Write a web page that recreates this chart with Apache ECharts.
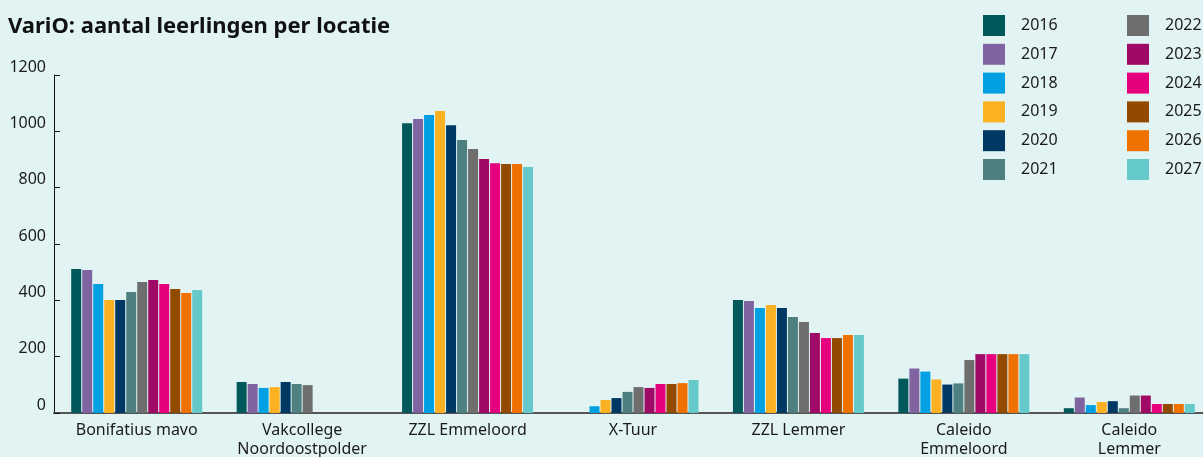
<!DOCTYPE html>
<html><head><meta charset="utf-8">
<script src="https://cdn.jsdelivr.net/npm/echarts@6/dist/echarts.min.js"></script>
<style>html,body{margin:0;padding:0;background:#e1f4f3;overflow:hidden}#c{width:1203px;height:457px}</style>
</head><body><div id="c"></div>
<script>
const categories = ['Bonifatius mavo', 'Vakcollege\nNoordoostpolder', 'ZZL Emmeloord', 'X-Tuur', 'ZZL Lemmer', 'Caleido\nEmmeloord', 'Caleido\nLemmer'];
const years = ['2016','2017','2018','2019','2020','2021','2022','2023','2024','2025','2026','2027'];
const colors = ['#00585a','#8064a2','#00a0e2','#fbb122','#003864','#4f8080','#6e6e6e','#9e0a66','#e6007e','#924a00','#ef7100','#64c9c8'];
// values per year, one entry per category
const v2016 = [511, 110, 1029, 0, 401, 122, 17];
const v2017 = [508, 103, 1044, 0, 398, 158, 55];
const v2018 = [458, 89, 1058, 24, 373, 147, 28];
const v2019 = [401, 92, 1072, 46, 383, 119, 39];
const v2020 = [401, 110, 1022, 53, 373, 101, 42];
const v2021 = [430, 103, 969, 75, 341, 105, 17];
const v2022 = [465, 99, 937, 92, 323, 188, 62];
const v2023 = [472, 0, 902, 89, 284, 209, 62];
const v2024 = [458, 0, 887, 103, 266, 209, 32];
const v2025 = [440, 0, 884, 103, 266, 209, 32];
const v2026 = [426, 0, 884, 106, 277, 209, 32];
const v2027 = [437, 0, 873, 117, 277, 209, 32];
const values = [v2016,v2017,v2018,v2019,v2020,v2021,v2022,v2023,v2024,v2025,v2026,v2027];
const yTicks = [0, 200, 400, 600, 800, 1000, 1200];

const font = 'Noto Sans';
const chart = echarts.init(document.getElementById('c'), null, {renderer:'canvas', width: 1203, height: 457});
const legendCommon = {
  orient: 'vertical', itemWidth: 22, itemHeight: 21, itemGap: 7.8, icon: 'rect', padding: 0,
  textStyle: {fontFamily: font, fontSize: 16, color: '#1a1a1a', padding: [0,0,0,11]},
  selectedMode: false
};
chart.setOption({
  backgroundColor: '#e1f4f3',
  animation: false,
  title: {text: 'VariO: aantal leerlingen per locatie', left: 3, top: 11,
    textStyle: {fontFamily: font, fontWeight: 'bold', fontSize: 22, color: '#111'}},
  legend: [
    Object.assign({left: 983, top: 15, data: years.slice(0,6)}, legendCommon),
    Object.assign({left: 1127, top: 15, data: years.slice(6)}, legendCommon)
  ],
  grid: {left: 54, top: 75, width: 1158, height: 338, containLabel: false, outerBoundsMode: 'none'},
  xAxis: {type: 'category', data: categories,
    axisLine: {lineStyle: {color: '#555', width: 2}},
    axisTick: {show: false},
    axisLabel: {fontFamily: font, fontSize: 16, color: '#1a1a1a', margin: 8, lineHeight: 19, interval: 0}},
  yAxis: {type: 'value', min: yTicks[0], max: yTicks[yTicks.length-1], interval: 200,
    axisLine: {show: true, lineStyle: {color: '#111', width: 1}},
    axisTick: {show: true, inside: true, length: 6, lineStyle: {color: '#111'}},
    splitLine: {show: false},
    axisLabel: {fontFamily: font, fontSize: 16, color: '#1a1a1a', margin: 8,
      verticalAlign: 'bottom', lineHeight: 16, formatter: v => String(v)}},
  series: years.map((y,i) => ({
    name: y, type: 'bar', data: values[i], barWidth: 10, barGap: '10%',
    itemStyle: {color: colors[i]}
  }))
});
</script></body></html>
